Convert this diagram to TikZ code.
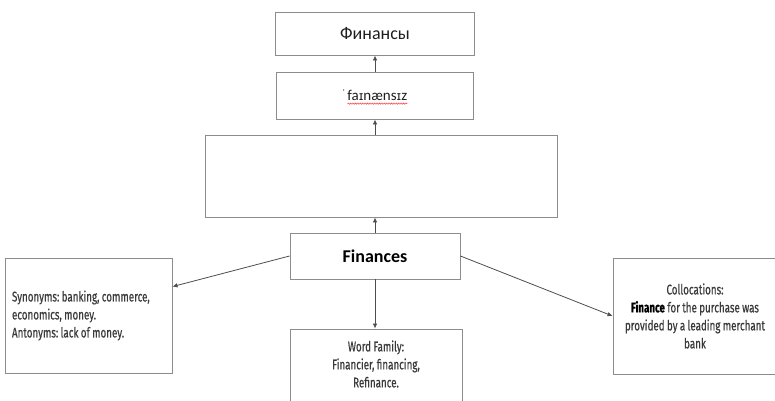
\documentclass[tikz,border=0pt]{standalone}
\usepackage{fontspec}
\setmainfont{Carlito}
\newfontfamily\narrowfont[FakeStretch=0.7, FakeBold=0.5, WordSpace=0.9]{Fira Sans}
\newfontfamily\ipafont{DejaVu Sans}
\usetikzlibrary{arrows.meta,decorations.pathmorphing,calc}

\definecolor{boxgray}{HTML}{8C8C8C}
\definecolor{linkgray}{HTML}{4D4D4D}
\definecolor{notegray}{HTML}{3A3A3A}
\definecolor{titlegray}{HTML}{1E1E1E}

\frenchspacing
\begin{document}
\begin{tikzpicture}[x=1pt,y=-1pt,
  box/.style={draw=boxgray, line width=0.9pt, rectangle, inner sep=0pt},
  link/.style={draw=linkgray, line width=0.8pt, -{Latex[length=5pt,width=4.5pt]}},
  note/.style={font=\narrowfont\fontsize{14}{18}\selectfont, text=notegray},
  title/.style={font=\fontsize{18}{20}\selectfont, text=titlegray}]
\useasboundingbox (0,0) rectangle (775,400);
\clip (0,0) rectangle (775,400);

% central column
\node[box, title, minimum width=199pt, minimum height=43pt] (rus) at (375,33.5) {Финансы};
\node[box, minimum width=197pt, minimum height=47pt] (ipa) at (375,95.5) {};
\node[font=\fontsize{15}{18}\selectfont, text=titlegray, inner sep=0pt] (trs) at (375,95)
  {\raisebox{0.3em}{\fontsize{9}{9}\selectfont ˈ}\kern2pt
   fa{\ipafont\fontsize{12.5}{15}\selectfont ɪ}næns{\ipafont\fontsize{12.5}{15}\selectfont ɪ}z};
\draw[red!85, line width=0.45pt, decorate,
      decoration={snake, amplitude=0.7pt, segment length=2.4pt}]
  ($(trs.base west)+(5,3)$) -- ($(trs.base east)+(0,3)$);
\node[box, minimum width=352pt, minimum height=82pt] (blank) at (381,176) {};
\node[box, title, font=\bfseries\fontsize{18}{20}\selectfont, text=black,
      minimum width=170pt, minimum height=46pt] (fin) at (375,256) {Finances};

% side boxes
\node[box, note, text width=153pt, align=flush left, inner xsep=7pt,
      minimum height=115pt] (syn) at (88.5,315.5)
  {Synonyms: banking, commerce,\\ economics, money.\\ Antonyms: lack of money.};
\node[box, note, text width=160pt, align=flush center, inner xsep=2pt,
      minimum height=116pt] (col) at (695,316)
  {Collocations:\\ \textcolor{black}{\textbf{Finance}} for the purchase was\\ provided by a leading merchant\\ bank};
\node[box, minimum width=172pt, minimum height=92pt] (fam) at (376,375) {};
\node[note, align=center] (famtext) at (376,364)
  {Word Family:\\ Financier, financing,\\ Refinance.};

% connectors
\draw[link] (fin.north) -- (blank.south -| fin.north);
\draw[link] (blank.north -| ipa.south) -- (ipa.south);
\draw[link] (ipa.north) -- (rus.south);
\draw[link] (fin.west) -- (syn.19);
\draw[link] (fin.east) -- (col.west);
\draw[link] (fin.south) -- (fam.north -| fin.south);
\end{tikzpicture}
\end{document}
